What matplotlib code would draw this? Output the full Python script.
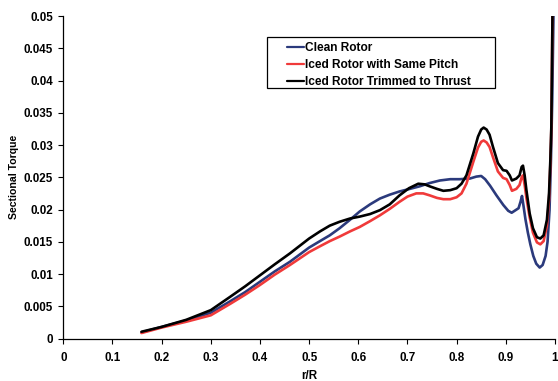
import matplotlib
matplotlib.use("Agg")
import matplotlib.pyplot as plt
from matplotlib.patches import Rectangle

plt.rcParams['font.family'] = ['Liberation Sans', 'DejaVu Sans']

clean_x = [0.159, 0.2, 0.25, 0.3, 0.34, 0.37, 0.4, 0.43, 0.461, 0.5, 0.522, 0.542, 0.562, 0.583,
           0.603, 0.624, 0.644, 0.664, 0.684, 0.705, 0.725, 0.745, 0.766, 0.787, 0.806, 0.827,
           0.840, 0.850, 0.858, 0.868, 0.881, 0.895, 0.905, 0.912, 0.920, 0.926, 0.930, 0.933,
           0.936, 0.940, 0.945, 0.950, 0.956, 0.962, 0.969, 0.975, 0.981, 0.985, 0.989, 0.992,
           0.9945, 0.997]
clean_y = [0.00095, 0.0018, 0.0028, 0.0040, 0.0058, 0.0072, 0.0088, 0.0104, 0.0119, 0.0141, 0.0151,
           0.0160, 0.0171, 0.0184, 0.0197, 0.0208, 0.0217, 0.0223, 0.0228, 0.0232, 0.0236, 0.0241,
           0.0245, 0.0247, 0.0247, 0.0248, 0.0251, 0.0252, 0.0247, 0.0237, 0.0222, 0.0207, 0.0198,
           0.0195, 0.0199, 0.0202, 0.0212, 0.0221, 0.0206, 0.0185, 0.0164, 0.0146, 0.0128, 0.0116,
           0.0110, 0.0114, 0.0128, 0.0150, 0.0199, 0.0280, 0.0370, 0.050]

iced_x = [0.159, 0.2, 0.25, 0.3, 0.34, 0.37, 0.4, 0.43, 0.461, 0.5, 0.522, 0.542, 0.562, 0.583,
          0.603, 0.624, 0.644, 0.664, 0.684, 0.70, 0.718, 0.732, 0.745, 0.76, 0.773, 0.787, 0.8,
          0.81, 0.820, 0.834, 0.8435, 0.850, 0.855, 0.861, 0.867, 0.874, 0.884, 0.8945, 0.9016,
          0.908, 0.9126, 0.9215, 0.928, 0.9323, 0.935, 0.9384, 0.942, 0.9486, 0.9553, 0.9634,
          0.9703, 0.977, 0.9837, 0.988, 0.9907, 0.9927, 0.995]
iced_y = [0.00085, 0.0017, 0.0026, 0.0036, 0.0054, 0.0068, 0.0083, 0.0099, 0.0114, 0.0134, 0.0143,
          0.0151, 0.0158, 0.0166, 0.0173, 0.0182, 0.0191, 0.0201, 0.0212, 0.0220, 0.0225, 0.0225,
          0.0222, 0.0218, 0.0216, 0.0216, 0.0219, 0.0225, 0.0240, 0.0274, 0.0296, 0.0305, 0.0307,
          0.0304, 0.0297, 0.0281, 0.0259, 0.0249, 0.0247, 0.0238, 0.0229, 0.0232, 0.0238, 0.0250,
          0.0253, 0.0238, 0.0218, 0.0188, 0.0164, 0.0149, 0.0146, 0.0151, 0.0175, 0.0215, 0.0270,
          0.0325, 0.050]

trim_x = [0.159, 0.2, 0.25, 0.3, 0.34, 0.37, 0.4, 0.43, 0.461, 0.5, 0.522, 0.542, 0.562, 0.583,
          0.603, 0.624, 0.644, 0.664, 0.684, 0.703, 0.722, 0.735, 0.745, 0.76, 0.773, 0.787, 0.8,
          0.81, 0.820, 0.834, 0.8435, 0.850, 0.855, 0.861, 0.867, 0.874, 0.884, 0.8945, 0.9016,
          0.908, 0.9126, 0.9215, 0.928, 0.9323, 0.935, 0.9384, 0.942, 0.9486, 0.9553, 0.9634,
          0.9703, 0.977, 0.9837, 0.988, 0.9907, 0.9927, 0.995]
trim_y = [0.00105, 0.0018, 0.0029, 0.0044, 0.0065, 0.0081, 0.0098, 0.0115, 0.0132, 0.0155, 0.0166,
          0.0175, 0.0181, 0.0186, 0.0189, 0.0193, 0.0199, 0.0208, 0.0222, 0.0233, 0.0240, 0.0239,
          0.0236, 0.0232, 0.0229, 0.0230, 0.0233, 0.0240, 0.0253, 0.0287, 0.0313, 0.0324, 0.0327,
          0.0324, 0.0316, 0.0297, 0.0272, 0.0261, 0.0260, 0.0253, 0.0245, 0.0248, 0.0253, 0.0266,
          0.0268, 0.0253, 0.0230, 0.0194, 0.0171, 0.0157, 0.0155, 0.0160, 0.0184, 0.0225, 0.0277,
          0.0328, 0.050]

labels = ["Clean Rotor", "Iced Rotor with Same Pitch", "Iced Rotor Trimmed to Thrust"]
colors = ["#2B3A7C", "#F03A3A", "#000000"]
xticks = [0, 0.1, 0.2, 0.3, 0.4, 0.5, 0.6, 0.7, 0.8, 0.9, 1]
xticklabels = ["0", "0.1", "0.2", "0.3", "0.4", "0.5", "0.6", "0.7", "0.8", "0.9", "1"]
yticks = [0, 0.005, 0.01, 0.015, 0.02, 0.025, 0.03, 0.035, 0.04, 0.045, 0.05]
yticklabels = ["0", "0.005", "0.01", "0.015", "0.02", "0.025", "0.03", "0.035", "0.04", "0.045", "0.05"]

fig = plt.figure(figsize=(5.58, 3.81), dpi=100)
ax = fig.add_axes([0.1135, 0.1115, 0.881, 0.8465])

for xs, ys, lab, c in zip([clean_x, iced_x, trim_x], [clean_y, iced_y, trim_y], labels, colors):
    ax.plot(xs, ys, color=c, lw=1.9, label=lab, solid_joinstyle='round', solid_capstyle='round')

ax.set_xlim(0, 1)
ax.set_ylim(0, 0.05)
ax.set_xticks(xticks)
ax.set_xticklabels(xticklabels)
ax.set_yticks(yticks)
ax.set_yticklabels(yticklabels)
for lab in ax.get_xticklabels() + ax.get_yticklabels():
    lab.set_fontweight('bold')
ax.tick_params(labelsize=8.4, length=3.5, width=0.8, direction='out')
ax.tick_params(axis='x', pad=6)
ax.tick_params(axis='y', pad=4)
ax.spines['top'].set_visible(False)
ax.spines['right'].set_visible(False)
for s in ['left', 'bottom']:
    ax.spines[s].set_linewidth(0.9)
ax.set_xlabel("r/R", fontsize=8.4, fontweight='bold')
ax.set_ylabel("Sectional Torque", fontsize=7.6, fontweight='bold')
ax.xaxis.set_label_coords(0.5, -0.098)
ax.yaxis.set_label_coords(-0.091, 0.5)

# legend frame
ax.add_patch(Rectangle((0.4134, 0.7767), 0.4640, 0.1573, transform=ax.transAxes,
                       facecolor='white', edgecolor='black', lw=0.9, zorder=4))
leg = ax.legend(loc='upper left', bbox_to_anchor=(0.4540, 0.920), frameon=False,
                handlelength=1.45, handletextpad=0.1, borderpad=0, labelspacing=0.42,
                borderaxespad=0, prop={'size': 8.6, 'weight': 'bold'})
leg.set_zorder(5)
for l in leg.get_lines():
    l.set_linewidth(1.6)

fig.savefig("out.png", dpi=100)
